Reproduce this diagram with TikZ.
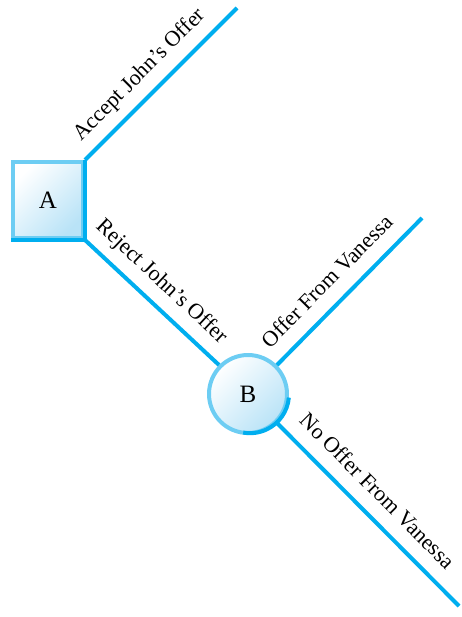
\documentclass[tikz,border=0pt]{standalone}
\usepackage{fontspec}
\setmainfont{Liberation Serif}
\usetikzlibrary{calc}
\definecolor{branch}{HTML}{00AEEF}
\definecolor{rim}{HTML}{6DCDF3}
\definecolor{glow}{HTML}{B9E3F7}
\begin{document}
\begin{tikzpicture} [x=1pt, y=-1pt, line width=4pt, font=\fontsize{22}{26}\selectfont,
  lbl/.style={pos=.46, sloped, above, text=black, text depth=0pt, inner xsep=0pt, inner ysep=14pt},
  choice/.style={draw=rim, shading=axis, top color=white, middle color=white!90!glow, bottom color=glow, shading angle=45, font=\fontsize{25}{28}\selectfont}]
\useasboundingbox (0,0) rectangle (461,617);
\node[choice, rectangle, minimum width=70pt, minimum height=76pt] (A) at (48,200) {A};
\node[choice, circle, minimum size=78pt, inner sep=0pt] (B) at (248,394) {B};
\coordinate (accept) at (237,8);
\coordinate (offer) at (422,218);
\coordinate (nooffer) at (459,606);

\draw[branch] (A.north east) -- (A.south east) -- (A.south west);
\draw[branch] (B.-5) arc[start angle=-5, end angle=-100, radius=39pt];

\draw[branch] (A.north east) -- (accept) node[lbl]{Accept John’s Offer};
\draw[branch] (A.south east) -- (B.135) node[lbl]{Reject John’s Offer};
\draw[branch] (B.45) -- (offer) node[lbl]{Offer From Vanessa};
\draw[branch] (B.-45) -- (nooffer) node[lbl]{No Offer From Vanessa};
\end{tikzpicture}
\end{document}
